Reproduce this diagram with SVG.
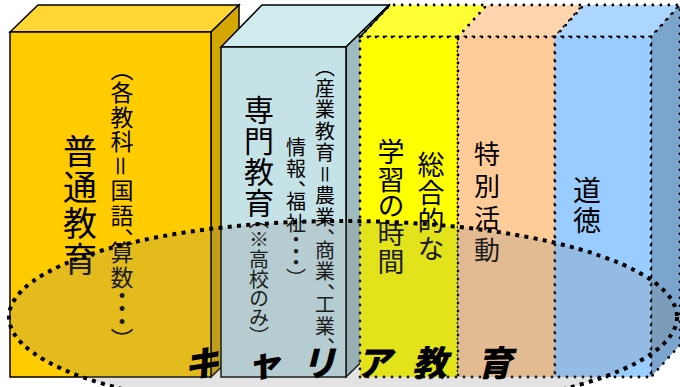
<svg xmlns="http://www.w3.org/2000/svg" width="680" height="387" viewBox="0 0 680 387">
<defs>
<style>
.solid{stroke:#000;stroke-width:1.5;stroke-linejoin:miter}
.dot{stroke:#000;stroke-width:2.8;stroke-dasharray:0 8;stroke-linecap:round;stroke-linejoin:round}
.vt{font-family:"Noto Sans CJK JP","Noto Sans CJK SC",sans-serif;writing-mode:vertical-rl;text-anchor:middle;fill:#000;font-feature-settings:"vpal" 1}
.cap{font-family:"Noto Sans CJK JP","Noto Sans CJK SC",sans-serif;font-size:35px;font-weight:900;font-style:italic;fill:#000}
</style>
</defs>
<rect width="680" height="387" fill="#fff"/>
<g id="box-futsu">
 <polygon points="10,32 38,5 239,5 211,32" fill="#FFD633" class="solid"/>
 <polygon points="211,32 239,5 239,350 211,377" fill="#D4A600" class="solid"/>
 <rect x="10" y="32" width="201" height="345" fill="#FFCC00" class="solid"/>
 <text class="vt" x="80" y="206" style="font-size:34px;letter-spacing:2px">普通教育</text>
 <text class="vt" x="122" y="205" style="font-size:23px;letter-spacing:1.5px">（各教科＝国語、算数・・・）</text>
</g>
<g id="box-senmon">
 <polygon points="221,47 262,5 389,5 346,47" fill="#D0EBEE" class="solid"/>
 <polygon points="346,47 389,5 389,335 346,377" fill="#9EBBC0" class="solid"/>
 <rect x="221" y="47" width="125" height="330" fill="#C5E3E7" class="solid"/>
 <text class="vt" x="259" y="95" style="text-anchor:start"><tspan style="font-size:30px;letter-spacing:1px">専門教育</tspan><tspan style="font-size:20px">（※高校のみ）</tspan></text>
 <text class="vt" x="325" y="208" style="font-size:20px;letter-spacing:1.5px">（産業教育＝農業、商業、工業、</text>
 <text class="vt" x="296" y="209" style="font-size:20px;letter-spacing:1.5px">情報、福祉・・・）</text>
</g>
<g id="box-sogo">
 <polygon points="360,37 390,5 487,5 458,37" fill="#FFFF33" class="dot"/>
 <line x1="360" y1="37" x2="390" y2="5" class="solid"/>
 <rect x="360" y="37" width="98" height="340" fill="#FFFF00" class="dot"/>
 <text class="vt" x="431" y="207" style="font-size:27px;letter-spacing:1px">総合的な</text>
 <text class="vt" x="391" y="207" style="font-size:27px;letter-spacing:1px">学習の時間</text>
</g>
<g id="box-tokkatsu">
 <polygon points="458,37 487,5 583,5 555,37" fill="#FFD5AE" class="dot"/>
 <rect x="458" y="37" width="97" height="340" fill="#FFCC99" class="dot"/>
 <text class="vt" x="487" y="205" style="font-size:26px;letter-spacing:6px">特別活動</text>
</g>
<g id="box-dotoku">
 <polygon points="555,37 584,5 680,5 651,37" fill="#ADD6FF" class="dot"/>
 <polygon points="651,37 680,5 680,345 651,377" fill="#7BA5CC" class="dot"/>
 <rect x="555" y="37" width="96" height="340" fill="#99CCFF" class="dot"/>
 <text class="vt" x="587" y="206" style="font-size:28px;letter-spacing:2px">道徳</text>
</g>
<g id="career">
 <ellipse cx="343" cy="317" rx="334" ry="96" fill="#808080" fill-opacity="0.22" stroke="#000" stroke-width="4" stroke-dasharray="4 5.3"/>
 <text class="cap" x="184 246 301 356 412 477" y="376">キャリア教育</text>
</g>
<g id="connectors"/>
</svg>
